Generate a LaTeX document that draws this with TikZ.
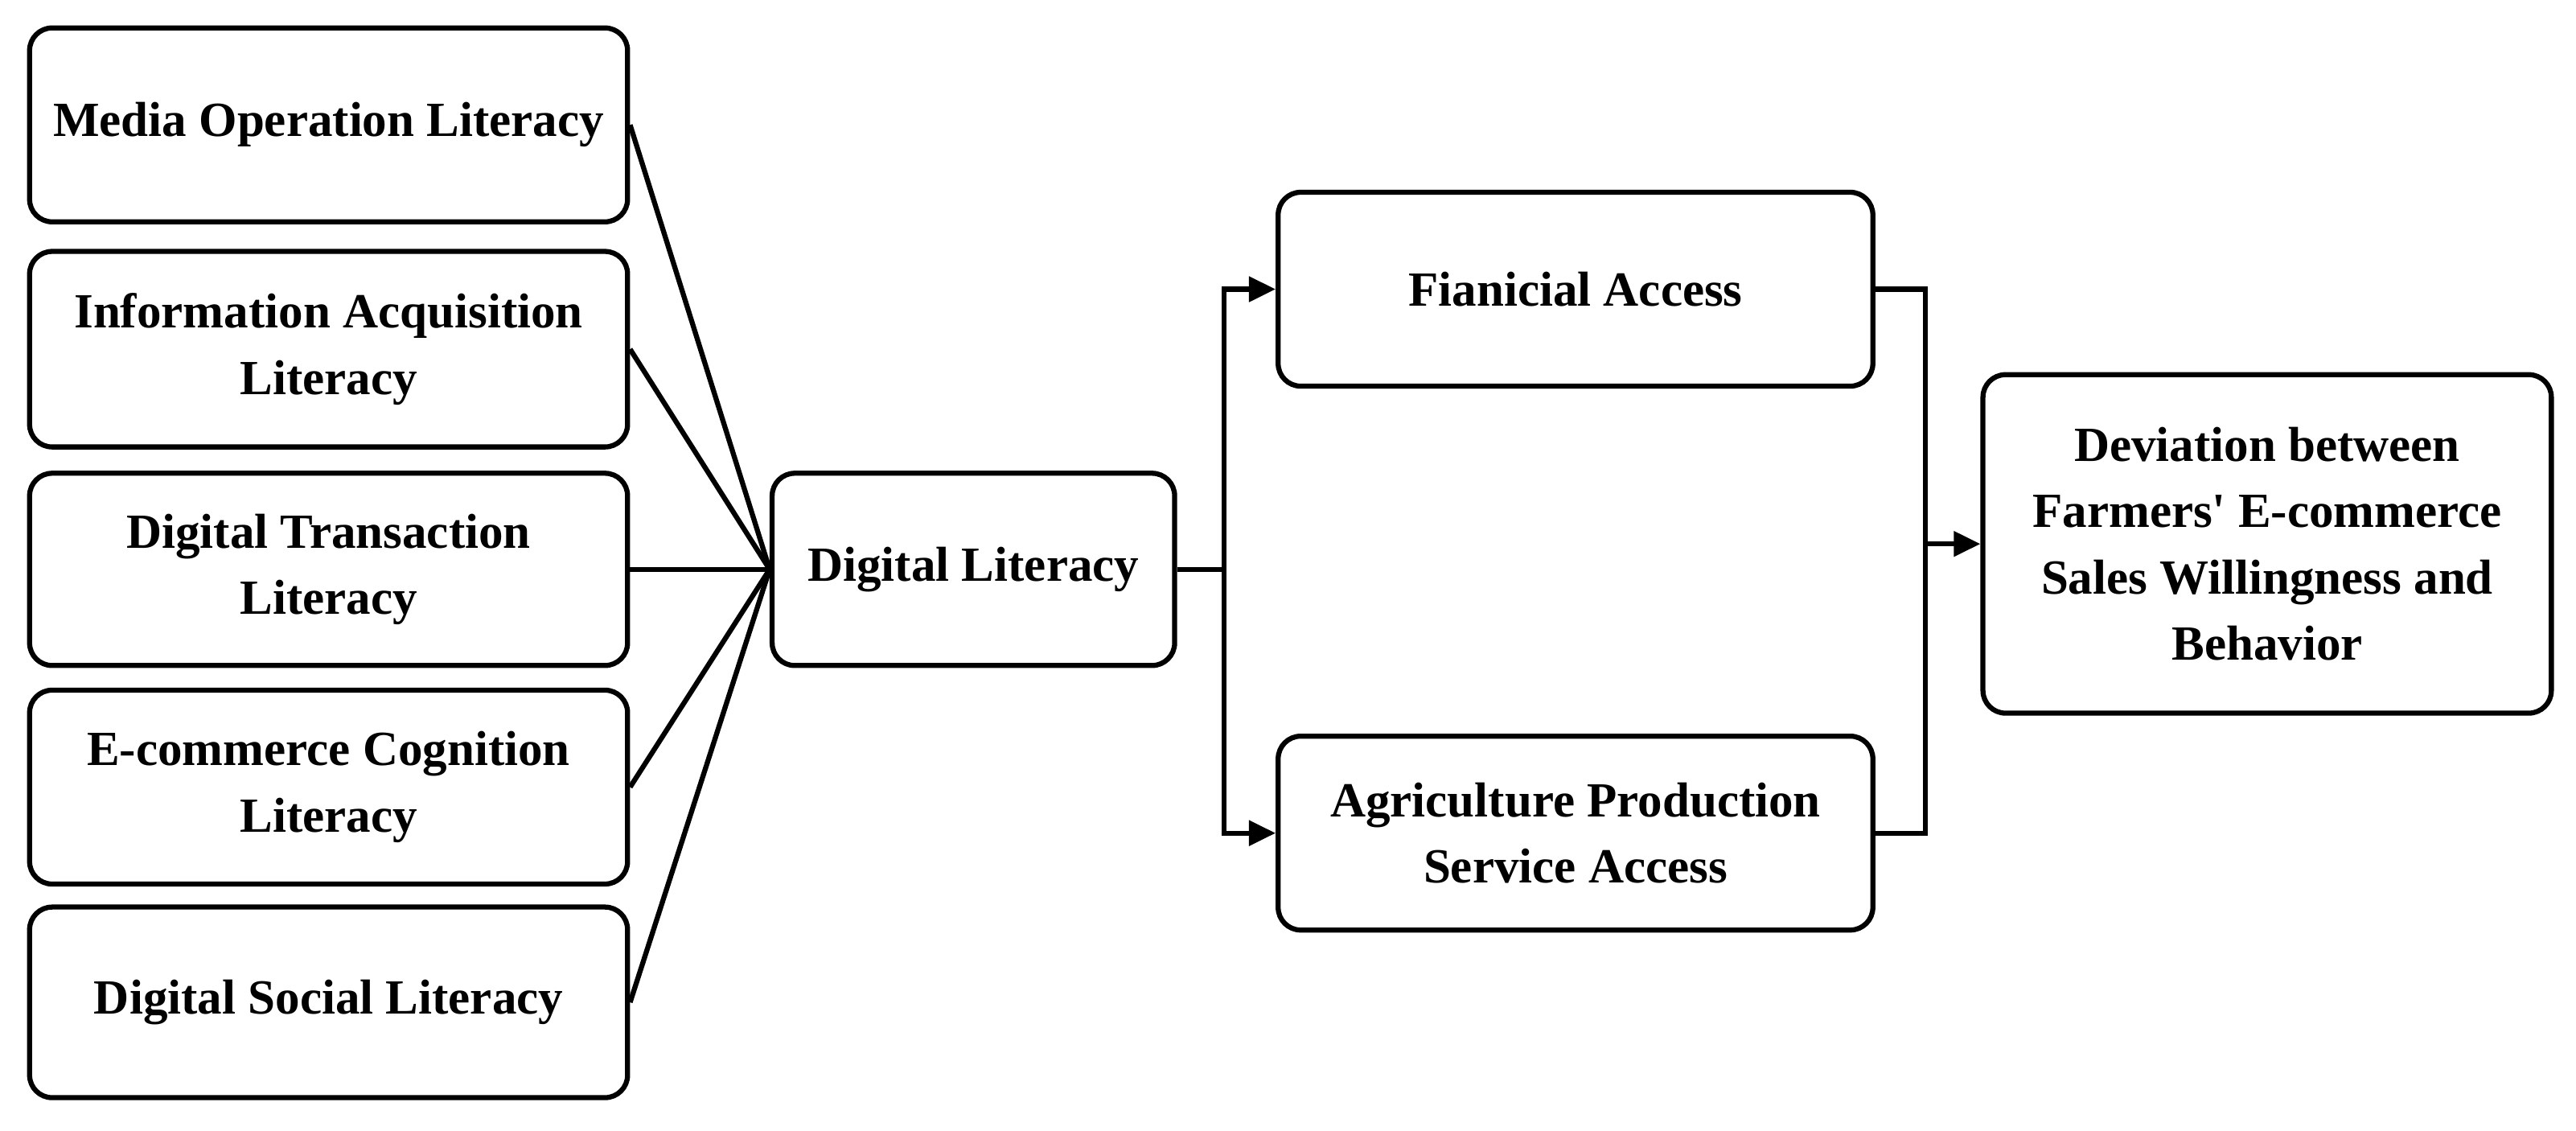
\documentclass[tikz,border=0pt]{standalone}
\usepackage{fontspec}
\setmainfont{Liberation Serif}
\usetikzlibrary{arrows.meta}
\begin{document}
\begin{tikzpicture}[x=0.04cm,y=-0.04cm,
  box/.style={draw,line width=3.5pt,rounded corners=0.55cm,align=center,font=\fontsize{34}{46}\selectfont\bfseries,inner sep=0pt},
  ln/.style={line width=3.5pt},
  arr/.style={line width=3.5pt,-{Triangle[length=0.65cm,width=0.6cm]}}]
\useasboundingbox (0,0) rectangle (1568,688);
\newcommand\bx[6]{\node[box,minimum width={(#4-#2)*0.04cm},minimum height={(#5-#3)*0.04cm}] (#1) at ({(#2+#4)/2},{(#3+#5)/2}) {#6};}
\bx{a}{18}{17}{382}{135}{Media Operation Literacy}
\bx{b}{18}{153}{382}{272}{Information Acquisition\\Literacy}
\bx{c}{18}{288}{382}{405}{Digital Transaction\\Literacy}
\bx{d}{18}{420}{382}{538}{E-commerce Cognition\\Literacy}
\bx{e}{18}{552}{382}{668}{Digital Social Literacy}
\bx{dl}{470}{288}{715}{405}{Digital Literacy}
\bx{f}{778}{117}{1140}{235}{Fianicial Access}
\bx{g}{778}{448}{1140}{566}{Agriculture Production\\Service Access}
\bx{h}{1207}{228}{1553}{434}{Deviation between\\Farmers\textquotesingle{} E-commerce\\Sales Willingness and\\Behavior}
\foreach \n in {a,b,c,d,e} \draw[ln] (\n.east) -- (dl.west);
\coordinate (s) at (dl.east -| 745,0);
\draw[ln] (dl.east) -- (s);
\draw[arr] (s) |- (f.west);
\draw[arr] (s) |- (g.west);
\coordinate (m) at (h.west -| 1172,0);
\draw[ln] (f.east) -| (m);
\draw[ln] (g.east) -| (m);
\draw[arr] (m) -- (h.west);
\end{tikzpicture}
\end{document}
